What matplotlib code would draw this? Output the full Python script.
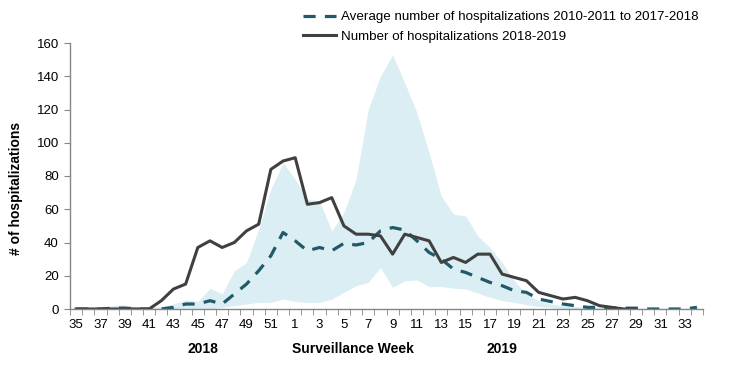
import numpy as np
import matplotlib
matplotlib.use("Agg")
import matplotlib.pyplot as plt

plt.rcParams['font.family'] = ['Liberation Sans', 'DejaVu Sans']

# ---- data ----
weeks = list(range(35, 53)) + list(range(1, 35))

season_2018_19 = [0, 0, 0, 0, 0, 0, 0, 5, 12, 15, 37, 41, 37, 40, 47, 51, 84, 89,
                  91, 63, 64, 67, 50, 45, 45, 44, 33, 45, 43, 41, 28, 31, 28, 33, 33, 21,
                  19, 17, 10, 8, 6, 7, 5, 2, 1, 0, 0,
                  np.nan, np.nan, np.nan, np.nan, np.nan]

avg_2010_2018 = [0, 0, 0, 0.5, 0.5, 0, 0, 0, 1, 3, 3, 5, 3, 9, 15, 23, 32, 46,
                 41, 35, 37, 35, 39.5, 38.5, 40, 47, 49, 47.5, 41, 34, 30, 24, 22, 19, 16, 14,
                 11, 10, 6, 4.5, 3, 2, 1, 1, 0.5, 0.5, 0.5, 0, 0, 0, 0, 1]

range_max = [0.5, 1, 1, 2, 2.5, 1.5, 1, 1.5, 3, 5.5, 4.5, 12.5, 9, 23, 28, 48, 72, 88,
             78, 66, 65, 47, 58, 78, 120, 140, 153, 136, 118, 94, 68, 57, 56, 44, 37, 28,
             17, 9, 5, 3, 2, 1.5, 1, 1, 1, 0.5, 0.5, 0.5, 0.5, 0.5, 0.5, 1]

range_min = [0, 0, 0, 0, 0, 0, 0, 0, 0, 0, 0, 0, 1, 2, 3, 4, 4, 6,
             4.5, 4, 4, 6, 10, 14, 16, 25, 13, 17, 17.5, 13.5, 13.5, 12.5, 12, 9.5, 7, 5,
             4, 2.5, 1.5, 1, 0, 0, 0, 0, 0, 0, 0, 0, 0, 0, 0, 0]

band_col = '#dbeef4'
avg_col = '#215968'
cur_col = '#404040'
axis_col = '#868686'

x = np.arange(len(weeks))

fig = plt.figure(figsize=(7.29, 3.65), dpi=100)
ax = fig.add_axes([70/729, 1 - 309/365, 633/729, 266/365])

ax.fill_between(x, range_min, range_max, color=band_col, linewidth=0)
ax.plot(x, avg_2010_2018, color=avg_col, lw=2.3, ls=(0, (3.8, 2.9)),
        label='Average number of hospitalizations 2010-2011 to 2017-2018')
ax.plot(x, season_2018_19, color=cur_col, lw=2.2,
        label='Number of hospitalizations 2018-2019')

ax.set_xlim(-0.5, len(weeks) - 0.5)
ax.set_ylim(0, 160)
ax.set_yticks(range(0, 161, 20))
ax.set_xticks(x[::2])
ax.set_xticklabels([str(w) for w in weeks[::2]])
ax.set_xticks(np.arange(-0.5, len(weeks), 1), minor=True)

ax.tick_params(axis='x', which='major', length=0, pad=7, labelsize=9.5, colors='black')
ax.tick_params(axis='x', which='minor', length=4, color=axis_col, direction='out')
ax.tick_params(axis='y', length=4, color=axis_col, pad=4, labelsize=9.5)

for s in ['top', 'right']:
    ax.spines[s].set_visible(False)
for s in ['left', 'bottom']:
    ax.spines[s].set_color(axis_col)
    ax.spines[s].set_linewidth(1.0)

ax.set_ylabel('# of hospitalizations', fontsize=10, fontweight='bold')
ax.yaxis.set_label_coords(-0.074, 0.455)

fig.text(203/729, 1 - 349/365, '2018', ha='center', va='center', fontsize=10, fontweight='bold')
fig.text(353/729, 1 - 349/365, 'Surveillance Week', ha='center', va='center', fontsize=10, fontweight='bold')
fig.text(502/729, 1 - 349/365, '2019', ha='center', va='center', fontsize=10, fontweight='bold')

ax.legend(loc='upper left', bbox_to_anchor=(303/729, 1 - 11/365), bbox_transform=fig.transFigure,
          frameon=False, fontsize=9.6, handlelength=2.5, handletextpad=0.35,
          labelspacing=0.55, borderpad=0, borderaxespad=0)

fig.savefig('out.png', dpi=100)
